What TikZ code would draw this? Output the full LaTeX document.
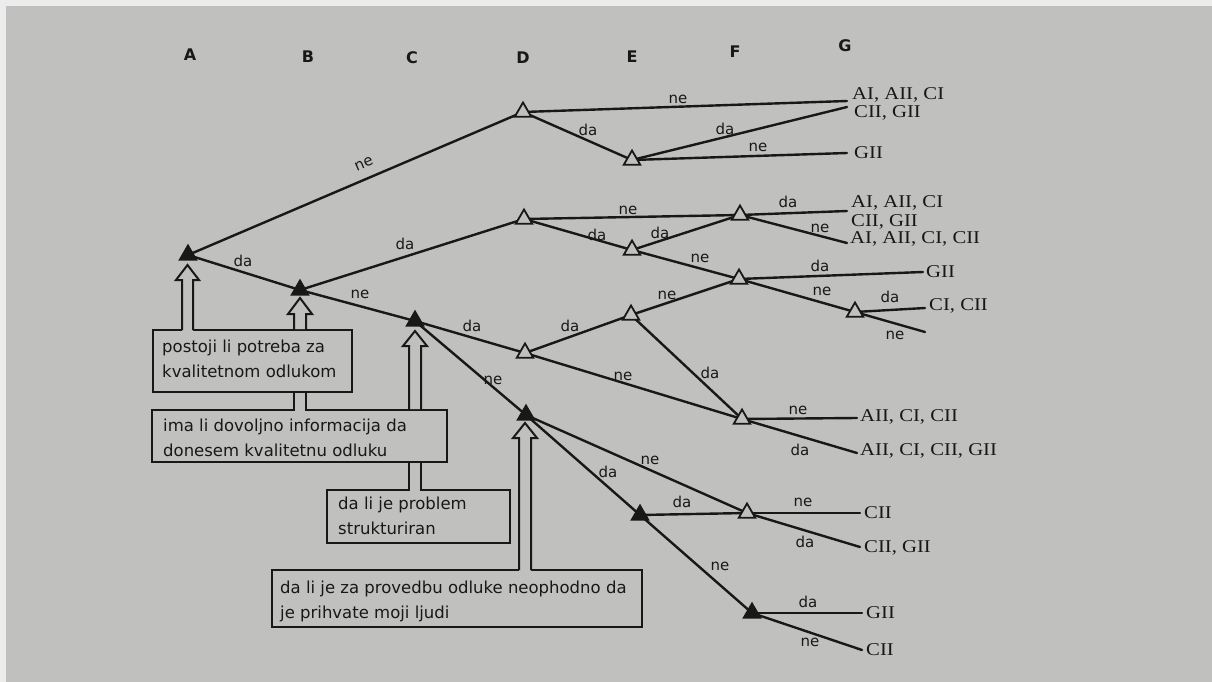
\documentclass[tikz,border=0pt]{standalone}
\usepackage{fontspec}
\setmainfont{DejaVu Sans}
\newfontfamily\leaffont[FakeStretch=1.15]{Liberation Serif}
\usetikzlibrary{shapes.geometric}
\definecolor{pagebg}{RGB}{192,192,191}
\definecolor{ink}{RGB}{24,24,24}
\definecolor{edgewhite}{RGB}{236,236,236}
\begin{document}
\begin{tikzpicture}[x=1pt,y=-1pt,
  conn/.style={draw=ink,line width=2.4pt,line cap=round},
  tri/.style={regular polygon,regular polygon sides=3,minimum size=19pt,inner sep=0pt,draw=ink,line width=1.8pt},
  opentri/.style={tri,fill=pagebg},
  solidtri/.style={tri,fill=ink},
  lab/.style={font=\fontsize{15}{15}\selectfont,text=ink,inner sep=0pt},
  colhead/.style={font=\bfseries\fontsize{16}{16}\selectfont,text=ink,inner sep=0pt},
  leaf/.style={font=\leaffont\fontsize{18}{18}\selectfont,text=ink,anchor=west,inner sep=0pt},
  qbox/.style={draw=ink,line width=2pt,fill=pagebg,inner sep=0pt,rectangle},
  qtext/.style={font=\fontsize{16.5}{25}\selectfont,text=ink,align=left,anchor=west,inner sep=0pt},
  hollow/.style={draw=ink,line width=2pt,line join=miter},
  shaft/.style={draw=ink,line width=2pt}
]
% page
\fill[pagebg] (0,0) rectangle (1212,682);
\useasboundingbox (0,0) rectangle (1212,682);
\fill[edgewhite] (0,0) rectangle (1212,6);
\fill[edgewhite] (0,0) rectangle (6,682);

% column headers
\node[colhead] (hA) at (190,55) {A};
\node[colhead] (hB) at (308,57) {B};
\node[colhead] (hC) at (412,58) {C};
\node[colhead] (hD) at (523,58) {D};
\node[colhead] (hE) at (632,57) {E};
\node[colhead] (hF) at (735,52) {F};
\node[colhead] (hG) at (845,46) {G};

% decision points
\coordinate (A) at (188,255);
\coordinate (B) at (300,290);
\coordinate (C) at (415,321);
\coordinate (D1) at (523,112);
\coordinate (E1) at (632,160);
\coordinate (D2) at (524,219);
\coordinate (E2) at (632,250);
\coordinate (F2a) at (740,215);
\coordinate (F2b) at (739,279);
\coordinate (G2) at (855,312);
\coordinate (D3) at (525,353);
\coordinate (E3) at (631,315);
\coordinate (F3) at (742,419);
\coordinate (D4) at (526,415);
\coordinate (E4) at (640,515);
\coordinate (F4) at (747,513);
\coordinate (F5) at (752,613);
% leaf ends
\coordinate (L1) at (847,101);
\coordinate (L2) at (847,107);
\coordinate (L3) at (847,153);
\coordinate (L4) at (847,211);
\coordinate (L5) at (847,243);
\coordinate (L6) at (923,272);
\coordinate (L7) at (925,308);
\coordinate (L8) at (925,332);
\coordinate (L9) at (857,418);
\coordinate (L10) at (857,453);
\coordinate (L11) at (860,513);
\coordinate (L12) at (860,547);
\coordinate (L13) at (862,613);
\coordinate (L14) at (862,650);

% connectors
\draw[conn] (A) -- (D1);
\draw[conn] (A) -- (B);
\draw[conn] (B) -- (D2);
\draw[conn] (B) -- (C);
\draw[conn] (C) -- (D3);
\draw[conn] (C) -- (D4);
\draw[conn] (D1) -- (L1);
\draw[conn] (D1) -- (E1);
\draw[conn] (E1) -- (L2);
\draw[conn] (E1) -- (L3);
\draw[conn] (D2) -- (F2a);
\draw[conn] (D2) -- (E2);
\draw[conn] (E2) -- (F2a);
\draw[conn] (E2) -- (F2b);
\draw[conn] (F2a) -- (L4);
\draw[conn] (F2a) -- (L5);
\draw[conn] (F2b) -- (L6);
\draw[conn] (F2b) -- (G2);
\draw[conn] (G2) -- (L7);
\draw[conn] (G2) -- (L8);
\draw[conn] (D3) -- (E3);
\draw[conn] (D3) -- (F3);
\draw[conn] (E3) -- (F2b);
\draw[conn] (E3) -- (F3);
\draw[conn] (F3) -- (L9);
\draw[conn] (F3) -- (L10);
\draw[conn] (D4) -- (F4);
\draw[conn] (D4) -- (E4);
\draw[conn] (E4) -- (F4);
\draw[conn] (E4) -- (F5);
\draw[conn] (F4) -- (L11);
\draw[conn] (F4) -- (L12);
\draw[conn] (F5) -- (L13);
\draw[conn] (F5) -- (L14);

% question boxes
\node[qbox,minimum width=199pt,minimum height=62pt] (b1) at (252.5,361) {};
\node[qbox,minimum width=295pt,minimum height=52pt] (b2) at (299.5,436) {};
\node[qbox,minimum width=183pt,minimum height=53pt] (b3) at (418.5,516.5) {};
\node[qbox,minimum width=370pt,minimum height=57pt] (b4) at (457,598.5) {};

% hollow arrow 1: box 1 -> A
\fill[pagebg] (182,331.6) -- (182,280) -- (176,280) -- (187.5,265) -- (199,280) -- (193,280) -- (193,331.6) -- cycle;
\draw[hollow] (182,330) -- (182,280) -- (176,280) -- (187.5,265) -- (199,280) -- (193,280) -- (193,330);
% hollow arrow 2: box 2 -> B (behind box 1)
\fill[pagebg] (294,329) -- (294,314) -- (288,314) -- (300,298) -- (312,314) -- (306,314) -- (306,329) -- cycle;
\draw[hollow] (294,330) -- (294,314) -- (288,314) -- (300,298) -- (312,314) -- (306,314) -- (306,330);
\fill[pagebg] (295,393) rectangle (305,411.6);
\draw[shaft] (294,392) -- (294,410);
\draw[shaft] (306,392) -- (306,410);
% hollow arrow 3: box 3 -> C (behind box 2)
\fill[pagebg] (409,409) -- (409,346) -- (403,346) -- (415,331) -- (427,346) -- (421,346) -- (421,409) -- cycle;
\draw[hollow] (409,410) -- (409,346) -- (403,346) -- (415,331) -- (427,346) -- (421,346) -- (421,410);
\fill[pagebg] (410,463) rectangle (420,491.6);
\draw[shaft] (409,462) -- (409,490);
\draw[shaft] (421,462) -- (421,490);
% hollow arrow 4: box 4 -> D4
\fill[pagebg] (519,571.6) -- (519,438) -- (513,438) -- (525,423) -- (537,438) -- (531,438) -- (531,571.6) -- cycle;
\draw[hollow] (519,570) -- (519,438) -- (513,438) -- (525,423) -- (537,438) -- (531,438) -- (531,570);

% box texts
\node[qtext] (t1) at (162,359) {postoji li potreba za\\kvalitetnom odlukom};
\node[qtext] (t2) at (163,437.5) {ima li dovoljno informacija da\\donesem kvalitetnu odluku};
\node[qtext] (t3) at (338,515.5) {da li je problem\\strukturiran};
\node[qtext] (t4) at (280,601) {da li je za provedbu odluke neophodno da\\je prihvate moji ljudi};

% triangles
\node[solidtri] (nA) at (A) {};
\node[solidtri] (nB) at (B) {};
\node[solidtri] (nC) at (C) {};
\node[opentri] (nD1) at (D1) {};
\node[opentri] (nE1) at (E1) {};
\node[opentri] (nD2) at (D2) {};
\node[opentri] (nE2) at (E2) {};
\node[opentri] (nF2a) at (F2a) {};
\node[opentri] (nF2b) at (F2b) {};
\node[opentri] (nG2) at (G2) {};
\node[opentri] (nD3) at (D3) {};
\node[opentri] (nE3) at (E3) {};
\node[opentri] (nF3) at (F3) {};
\node[solidtri] (nD4) at (D4) {};
\node[solidtri] (nE4) at (E4) {};
\node[opentri] (nF4) at (F4) {};
\node[solidtri] (nF5) at (F5) {};

% branch labels
\node[lab,rotate=23] (l1) at (364,164) {ne};
\node[lab] (l2) at (243,261) {da};
\node[lab] (l3) at (405,244) {da};
\node[lab] (l4) at (360,294) {ne};
\node[lab] (l5) at (472,326) {da};
\node[lab] (l6) at (493,380) {ne};
\node[lab] (l7) at (678,99) {ne};
\node[lab] (l8) at (588,130) {da};
\node[lab] (l9) at (725,129) {da};
\node[lab] (l10) at (758,147) {ne};
\node[lab] (l11) at (628,210) {ne};
\node[lab] (l12) at (597,235) {da};
\node[lab] (l13) at (660,233) {da};
\node[lab] (l14) at (700,258) {ne};
\node[lab] (l15) at (788,202) {da};
\node[lab] (l16) at (820,228) {ne};
\node[lab] (l17) at (820,266) {da};
\node[lab] (l18) at (822,291) {ne};
\node[lab] (l19) at (890,297) {da};
\node[lab] (l20) at (895,335) {ne};
\node[lab] (l21) at (570,326) {da};
\node[lab] (l22) at (623,376) {ne};
\node[lab] (l23) at (667,295) {ne};
\node[lab] (l24) at (710,373) {da};
\node[lab] (l25) at (798,410) {ne};
\node[lab] (l26) at (800,450) {da};
\node[lab] (l27) at (650,460) {ne};
\node[lab] (l28) at (608,472) {da};
\node[lab] (l29) at (682,502) {da};
\node[lab] (l30) at (720,566) {ne};
\node[lab] (l31) at (803,502) {ne};
\node[lab] (l32) at (805,542) {da};
\node[lab] (l33) at (808,602) {da};
\node[lab] (l34) at (810,642) {ne};

% outcome sets
\node[leaf] (o1) at (852,95) {AI, AII, CI};
\node[leaf] (o2) at (854,113) {CII, GII};
\node[leaf] (o3) at (854,153) {GII};
\node[leaf] (o4) at (851,203) {AI, AII, CI};
\node[leaf] (o5) at (851,222) {CII, GII};
\node[leaf] (o6) at (850,239) {AI, AII, CI, CII};
\node[leaf] (o7) at (926,272) {GII};
\node[leaf] (o8) at (929,306) {CI, CII};
\node[leaf] (o9) at (860,417) {AII, CI, CII};
\node[leaf] (o10) at (860,451) {AII, CI, CII, GII};
\node[leaf] (o11) at (864,513) {CII};
\node[leaf] (o12) at (864,548) {CII, GII};
\node[leaf] (o13) at (866,613) {GII};
\node[leaf] (o14) at (866,650) {CII};
\end{tikzpicture}
\end{document}
